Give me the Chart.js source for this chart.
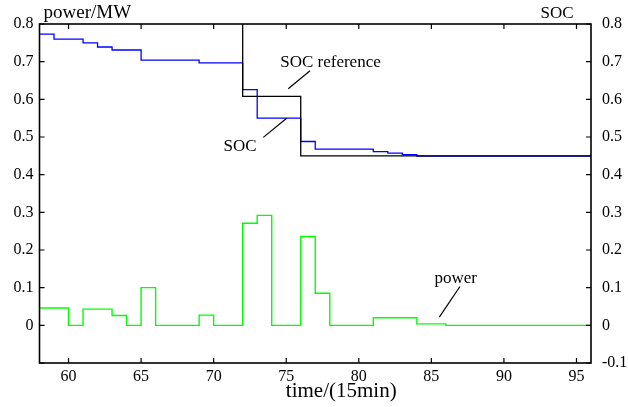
<!DOCTYPE html>
<html><head><meta charset="utf-8">
<style>html,body{margin:0;padding:0;background:#fff;}#wrap{width:628px;height:407px;}</style>
<script src="https://cdn.jsdelivr.net/npm/chart.js@4/dist/chart.umd.min.js"></script>
</head><body><div id="wrap"><canvas id="c" width="628" height="407"></canvas></div>
<script>
// time steps (15 min), value held from each step until the next one
const times = [58,59,60,61,62,63,64,65,66,67,68,69,70,71,72,73,74,75,76,77,78,79,80,81,82,83,84,85,86,87,88,89,90,91,92,93,94,95,96];
const soc = [0.773,0.760,0.760,0.750,0.739,0.731,0.731,0.704,0.704,0.704,0.704,0.697,0.697,0.697,0.626,0.550,0.550,0.550,0.488,0.468,0.468,0.468,0.468,0.461,0.457,0.453,0.449,0.449,0.449,0.449,0.449,0.449,0.449,0.449,0.449,0.449,0.449,0.449,0.449];
const socReference = [null,null,null,null,null,null,null,null,null,null,null,null,null,0.9,0.608,0.608,0.608,0.608,0.45,0.45,0.45,0.45,0.45,0.45,0.45,0.45,0.45,0.45,0.45,0.45,0.45,0.45,0.45,0.45,0.45,0.45,0.45,0.45,0.45];
const power = [0.046,0.046,0,0.043,0.043,0.026,0,0.100,0,0,0,0.027,0,0,0.271,0.292,0,0,0.236,0.085,0,0,0,0.020,0.020,0.020,0.004,0.004,0,0,0,0,0,0,0,0,0,0,0];
const xTicks = [60,65,70,75,80,85,90,95];
const yTicks = [-0.1,0,0.1,0.2,0.3,0.4,0.5,0.6,0.7,0.8];
const leftYTickLabels = ['', '0','0.1','0.2','0.3','0.4','0.5','0.6','0.7','0.8'];
const rightYTickLabels = ['-0.1','0','0.1','0.2','0.3','0.4','0.5','0.6','0.7','0.8'];

// annotations in data coordinates: text anchor and leader line
const annotations = [
  {text:'SOC reference', at:[78.05,0.687], from:[76.64,0.676], to:[75.14,0.628]},
  {text:'SOC', at:[71.82,0.462], from:[75.03,0.550], to:[73.42,0.499]},
  {text:'power', at:[86.68,0.112], from:[86.97,0.103], to:[85.55,0.022]}
];

const FONT = "'Liberation Serif', 'Times New Roman', serif";
Chart.defaults.font.family = FONT;
Chart.defaults.color = '#000';

const framePlugin = {
  id:'frame',
  afterDatasetsDraw(chart){
    const ctx = chart.ctx, a = chart.chartArea;
    const xs = chart.scales.x, ys = chart.scales.y;
    ctx.save();
    ctx.strokeStyle = '#000';
    ctx.lineWidth = 1.6;
    ctx.strokeRect(a.left, a.top, a.right - a.left, a.bottom - a.top);
    ctx.lineWidth = 1.2;
    ctx.beginPath();
    xTicks.forEach(v => {
      const px = xs.getPixelForValue(v);
      ctx.moveTo(px, a.bottom); ctx.lineTo(px, a.bottom - 5);
      ctx.moveTo(px, a.top); ctx.lineTo(px, a.top + 5);
    });
    yTicks.forEach(v => {
      const py = ys.getPixelForValue(v);
      ctx.moveTo(a.left, py); ctx.lineTo(a.left + 5, py);
      ctx.moveTo(a.right, py); ctx.lineTo(a.right - 5, py);
    });
    ctx.stroke();
    // annotations
    ctx.fillStyle = '#000';
    ctx.font = '17px ' + FONT;
    ctx.textAlign = 'center';
    ctx.textBaseline = 'alphabetic';
    ctx.lineWidth = 1.2;
    annotations.forEach(an => {
      ctx.fillText(an.text, xs.getPixelForValue(an.at[0]), ys.getPixelForValue(an.at[1]));
      ctx.beginPath();
      ctx.moveTo(xs.getPixelForValue(an.from[0]), ys.getPixelForValue(an.from[1]));
      ctx.lineTo(xs.getPixelForValue(an.to[0]), ys.getPixelForValue(an.to[1]));
      ctx.stroke();
    });
    // axis titles
    ctx.font = '19px ' + FONT;
    ctx.textAlign = 'left';
    ctx.fillText('power/MW', a.left + 4, 18);
    ctx.font = '17px ' + FONT;
    ctx.textAlign = 'center';
    ctx.fillText('SOC', a.right - 34, 18);
    ctx.font = '21px ' + FONT;
    ctx.fillText('time/(15min)', (a.left + a.right) / 2 + 26, 397);
    ctx.restore();
  }
};

function pts(vals){ return times.map((t,i) => ({x:t, y:vals[i]})); }
const tickFont = {family:FONT, size:16};

new Chart(document.getElementById('c'), {
  type:'line',
  data:{
    datasets:[
      {label:'SOC reference', data:pts(socReference), borderColor:'#000000', borderWidth:1.3, stepped:true, pointRadius:0, fill:false, clip:0, order:0, spanGaps:false},
      {label:'SOC', data:pts(soc), borderColor:'#0000ff', borderWidth:1.3, stepped:true, pointRadius:0, fill:false, clip:0, order:1},
      {label:'power', data:pts(power), borderColor:'#00ff00', borderWidth:1.4, stepped:true, pointRadius:0, fill:false, clip:0, order:2}
    ]
  },
  options:{
    responsive:false, animation:false, devicePixelRatio:1,
    layout:{padding:{top:24, left:0, right:0, bottom:0}},
    plugins:{legend:{display:false}, tooltip:{enabled:false}},
    scales:{
      x:{type:'linear', position:'bottom', min:58, max:96,
        afterBuildTicks(s){ s.ticks = xTicks.map(v => ({value:v})); },
        afterFit(s){ s.height = 44; },
        grid:{display:false, drawTicks:false}, border:{display:false},
        ticks:{color:'#000', font:tickFont, padding:4, maxRotation:0, autoSkip:false,
          callback:(v) => String(v)}
      },
      y:{type:'linear', position:'left', min:-0.1, max:0.8,
        afterBuildTicks(s){ s.ticks = yTicks.map(v => ({value:v})); },
        afterFit(s){ s.width = 39.5; },
        grid:{display:false, drawTicks:false}, border:{display:false},
        ticks:{color:'#000', font:tickFont, padding:6, autoSkip:false,
          callback:(v,i) => leftYTickLabels[i]}
      },
      y2:{type:'linear', position:'right', min:-0.1, max:0.8,
        afterBuildTicks(s){ s.ticks = yTicks.map(v => ({value:v})); },
        afterFit(s){ s.width = 37; },
        grid:{display:false, drawTicks:false}, border:{display:false},
        ticks:{color:'#000', font:tickFont, padding:11, autoSkip:false,
          callback:(v,i) => rightYTickLabels[i]}
      }
    }
  },
  plugins:[framePlugin]
});
</script></body></html>
